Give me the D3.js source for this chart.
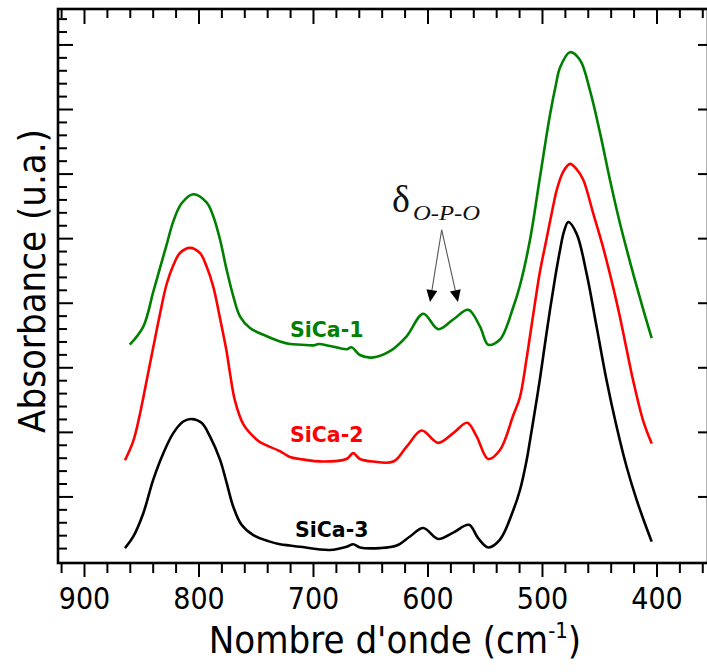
<!DOCTYPE html>
<html><head><meta charset="utf-8">
<script src="https://cdn.jsdelivr.net/npm/d3@7"></script>
<style>body{margin:0;background:#fff}svg{display:block}</style>
</head><body><svg id="c" width="707" height="672"></svg>
<script>
// ---------- data (wavenumber cm-1, absorbance u.a.) ----------
const sica1 = [[860,3.35],[848.2,3.63],[839.5,4.17],[833.6,4.54],[827.8,4.90],[822,5.26],[814.7,5.54],[804.5,5.68],[792.8,5.55],[787.1,5.34],[781.2,4.98],[775.4,4.51],[769.6,4.10],[763.8,3.79],[755,3.61],[740.4,3.48],[728.8,3.40],[720.1,3.36],[710,3.35],[699.7,3.34],[695,3.36],[685,3.33],[670.6,3.28],[666.3,3.31],[659,3.19],[648.8,3.15],[632.8,3.25],[618.2,3.48],[603.7,3.83],[590.6,3.59],[577.5,3.74],[564.4,3.89],[554.1,3.63],[546.9,3.35],[536.7,3.43],[525.1,3.93],[519.2,4.27],[510.5,4.97],[501.7,5.95],[493,6.91],[487.8,7.38],[484.3,7.64],[475.6,7.88],[466.8,7.76],[458.1,7.29],[449.3,6.63],[440.6,5.90],[431.9,5.23],[423.1,4.63],[414.4,4.07],[404.2,3.45]];
const sica2 = [[864.2,1.56],[856.9,1.86],[851.1,2.28],[845.3,2.79],[839.5,3.31],[833.6,3.83],[827.8,4.29],[822,4.58],[816.2,4.77],[807.4,4.85],[798.7,4.77],[792.9,4.56],[787.1,4.25],[781.2,3.76],[775.4,3.24],[772.5,2.91],[768.1,2.48],[760.9,2.12],[753.3,1.95],[746.3,1.84],[728.8,1.70],[720.1,1.61],[711.4,1.58],[691,1.54],[670.7,1.58],[664.9,1.67],[659,1.58],[647.4,1.54],[629.9,1.54],[618.2,1.77],[605.1,2.02],[590.6,1.83],[577.5,1.98],[565.3,2.14],[557.1,1.93],[547,1.58],[536.7,1.72],[525,2.26],[519.2,2.54],[513.4,3.14],[510.5,3.48],[504.7,4.16],[501.8,4.48],[495.9,5.00],[490.1,5.51],[487.2,5.74],[481.7,6.02],[475.6,6.15],[469.8,6.07],[463.9,5.90],[455.2,5.38],[446.5,4.85],[437.7,4.23],[431.9,3.78],[426,3.27],[420.3,2.79],[411.6,2.17],[404.2,1.82]];
const sica3 = [[864.2,0.20],[856.9,0.38],[848.2,0.74],[839.5,1.26],[830.7,1.67],[822,1.98],[813.3,2.16],[806,2.20],[797.3,2.14],[790,1.93],[781.2,1.57],[775.4,1.21],[769.6,0.84],[762.4,0.56],[752.1,0.40],[737.6,0.30],[728.8,0.26],[720.1,0.24],[711.4,0.22],[685.2,0.17],[670.6,0.22],[664.9,0.26],[659,0.21],[641.5,0.20],[626.9,0.24],[615.3,0.38],[603.7,0.51],[590.6,0.34],[577.5,0.44],[563.8,0.56],[555.6,0.35],[546.9,0.21],[536.7,0.33],[525,0.79],[519.2,1.10],[513.4,1.56],[510.5,1.86],[504.7,2.49],[501.7,2.83],[497.4,3.36],[493,3.89],[488.6,4.38],[484.3,4.81],[480.8,5.10],[477,5.25],[469.8,5.07],[461,4.45],[452.3,3.63],[443.6,2.80],[434.8,2.08],[426.1,1.46],[417.4,0.95],[410.1,0.58],[404.2,0.30]];
const seriesNames = ["SiCa-1","SiCa-2","SiCa-3"];
const seriesColors = ["#008000","#ff0000","#000000"];
const xMajorTicks = [900,800,700,600,500,400];
const xMinorTicks = [920,880,860,840,820,780,760,740,720,680,660,640,620,580,560,540,520,480,460,440,420,380,360];
const yMajorTicks = [0,1,2,3,4,5,6,7,8];
const yMinorTicks = d3.range(0, 8.45, 0.2).filter(v => Math.abs(v - Math.round(v)) > 0.01);
// annotation anchors, in data units
const labelAnchors = [[720.1,3.47],[720.1,1.84],[715.7,0.37]];
const deltaAnchor = [631,5.40];
const deltaSubAnchor = [612.7,5.28];
const arrowOrigin = [587.6,5.13];
const arrowTips = [[597.8,4.01],[573.4,4.01]];

// ---------- chart ----------
const svg = d3.select("#c");
const W = 707, H = 672;
const mLeft = 58, mRight = 708, mTop = 9, mBottom = 563;
const x = d3.scaleLinear().domain([922.7, 355]).range([mLeft, mRight]);
const y = d3.scaleLinear().domain([-0.031, 8.549]).range([mBottom, mTop]);
const FONT = "'DejaVu Sans Condensed', 'DejaVu Sans', sans-serif";

svg.append("rect").attr("width", W).attr("height", H).attr("fill", "#fff");

function styleAxis(g, w) {
  g.select(".domain").remove();
  g.selectAll(".tick line").attr("stroke", "#000").attr("stroke-width", w);
}
// bottom
svg.append("g").attr("transform", `translate(0,${mBottom})`)
  .call(d3.axisBottom(x).tickValues(xMinorTicks).tickSize(10).tickFormat(""))
  .call(g => styleAxis(g, 2));
const bx = svg.append("g").attr("transform", `translate(0,${mBottom})`)
  .call(d3.axisBottom(x).tickValues(xMajorTicks).tickSize(14).tickPadding(11).tickFormat(d3.format("d")))
  .call(g => styleAxis(g, 2));
bx.selectAll(".tick text").attr("font-family", FONT).attr("font-size", 30).attr("fill", "#000");
// top
svg.append("g").attr("transform", `translate(0,${mTop})`)
  .call(d3.axisTop(x).tickValues(xMinorTicks).tickSize(-9).tickFormat(""))
  .call(g => styleAxis(g, 2));
svg.append("g").attr("transform", `translate(0,${mTop})`)
  .call(d3.axisTop(x).tickValues(xMajorTicks).tickSize(-15).tickFormat(""))
  .call(g => styleAxis(g, 2));
// left
svg.append("g").attr("transform", `translate(${mLeft},0)`)
  .call(d3.axisLeft(y).tickValues(yMinorTicks).tickSize(-9).tickFormat(""))
  .call(g => styleAxis(g, 2));
svg.append("g").attr("transform", `translate(${mLeft},0)`)
  .call(d3.axisLeft(y).tickValues(yMajorTicks.filter(v => v > 0)).tickSize(-15).tickFormat(""))
  .call(g => styleAxis(g, 2));
// right
svg.append("g").attr("transform", `translate(${mRight},0)`)
  .call(d3.axisRight(y).tickValues(yMajorTicks.filter(v => v > 0)).tickSize(-10).tickFormat(""))
  .call(g => styleAxis(g, 2));
// frame
svg.append("rect").attr("x", mLeft).attr("y", mTop).attr("width", mRight - mLeft).attr("height", mBottom - mTop)
  .attr("fill", "none").attr("stroke", "#000").attr("stroke-width", 2.6);

// curves
const line = d3.line().x(d => x(d[0])).y(d => y(d[1])).curve(d3.curveCatmullRom.alpha(0.5));
[sica1, sica2, sica3].forEach((s, i) => {
  svg.append("path").datum(s).attr("d", line)
    .attr("fill", "none").attr("stroke", seriesColors[i]).attr("stroke-width", 2.6)
    .attr("stroke-linejoin", "round");
});

// series labels
seriesNames.forEach((n, i) => {
  svg.append("text").attr("x", x(labelAnchors[i][0])).attr("y", y(labelAnchors[i][1]))
    .attr("font-family", "'DejaVu Sans', sans-serif").attr("font-weight", "bold")
    .attr("font-size", 20.5).attr("fill", seriesColors[i]).text(n);
});

// delta annotation
svg.append("text").attr("x", x(deltaAnchor[0])).attr("y", y(deltaAnchor[1]))
  .attr("font-family", "'Liberation Serif', serif").attr("font-size", 38).attr("fill", "#111").text("δ");
svg.append("text").attr("x", x(deltaSubAnchor[0])).attr("y", y(deltaSubAnchor[1]))
  .attr("font-family", "'Liberation Serif', serif").attr("font-style", "italic")
  .attr("font-size", 22).attr("fill", "#111")
  .attr("textLength", 67).attr("lengthAdjust", "spacingAndGlyphs").text("O-P-O");
arrowTips.forEach(t => {
  const x0 = x(arrowOrigin[0]), y0 = y(arrowOrigin[1]), x1 = x(t[0]), y1 = y(t[1]);
  const dx = x1 - x0, dy = y1 - y0, L = Math.hypot(dx, dy), ux = dx / L, uy = dy / L;
  const hl = 12, hw = 5.5;
  const bx0 = x1 - ux * hl, by0 = y1 - uy * hl;
  svg.append("line").attr("x1", x0).attr("y1", y0).attr("x2", bx0).attr("y2", by0)
    .attr("stroke", "#555").attr("stroke-width", 1.1);
  svg.append("path").attr("d", `M${x1},${y1}L${bx0 - uy * hw},${by0 + ux * hw}L${bx0 + uy * hw},${by0 - ux * hw}Z`)
    .attr("fill", "#000");
});

// axis titles
const xt = svg.append("text").attr("x", 395).attr("y", 653).attr("text-anchor", "middle")
  .attr("font-family", FONT).attr("font-size", 38).attr("fill", "#000");
xt.append("tspan").text("Nombre d'onde (cm");
xt.append("tspan").attr("font-size", 22).attr("dy", -15).text("-1");
xt.append("tspan").attr("dy", 15).text(")");
svg.append("text").attr("transform", "translate(45,281) rotate(-90)").attr("text-anchor", "middle")
  .attr("font-family", FONT).attr("font-size", 38).attr("fill", "#000").text("Absorbance (u.a.)");
</script></body></html>
